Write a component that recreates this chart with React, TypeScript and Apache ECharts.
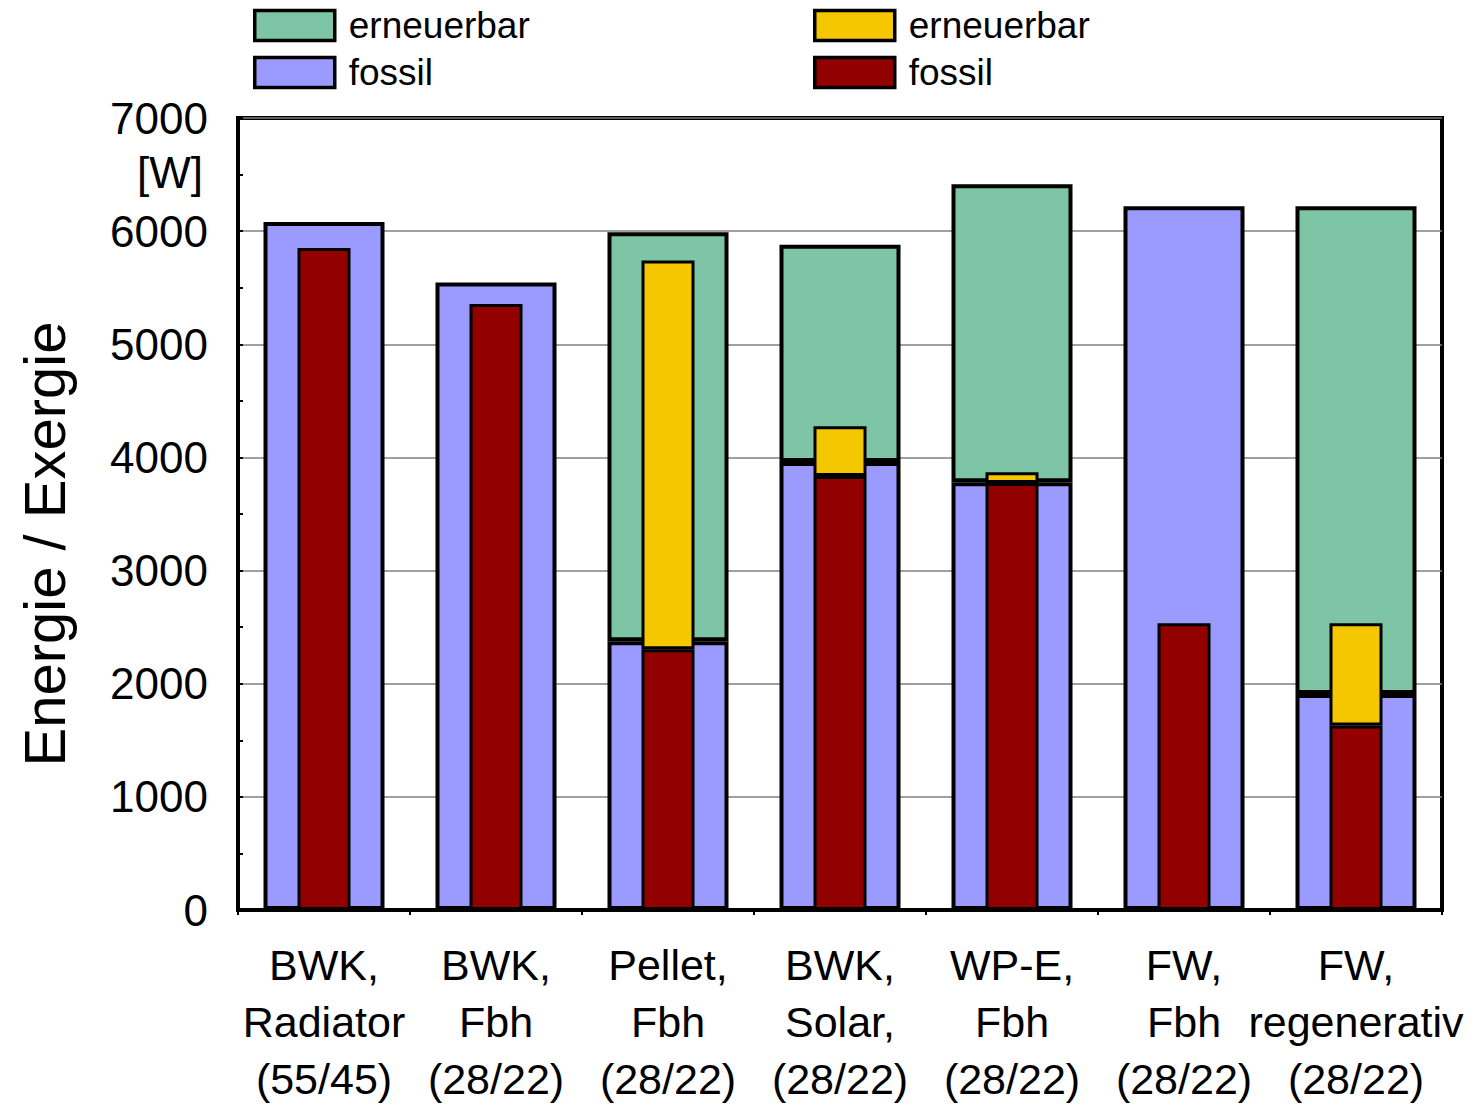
import React, { useEffect, useRef } from "react";
import * as echarts from "echarts";

const categories = [
  "BWK,\nRadiator\n(55/45)",
  "BWK,\nFbh\n(28/22)",
  "Pellet,\nFbh\n(28/22)",
  "BWK,\nSolar,\n(28/22)",
  "WP-E,\nFbh\n(28/22)",
  "FW,\nFbh\n(28/22)",
  "FW,\nregenerativ\n(28/22)",
];
const energyFossil = [6080, 5545, 2375, 3960, 3780, 6220, 1910];
const energyRenewable = [0, 0, 3615, 1920, 2635, 0, 4310];
const exergyFossil = [5850, 5355, 2305, 3835, 3775, 2535, 1630];
const exergyRenewable = [0, 0, 3435, 440, 95, 0, 905];
const yTicks = [0, 1000, 2000, 3000, 4000, 5000, 6000, 7000];

const FONT = "'Liberation Sans', Arial, sans-serif";
const GREEN = "#7DC5A5";
const BLUE = "#9B9BFF";
const YELLOW = "#F5C700";
const RED = "#920000";

const nz = (arr: number[]) => arr.map((v) => (v === 0 ? null : v));

export default function App() {
  const ref = useRef<HTMLDivElement>(null);
  useEffect(() => {
    document.body.style.margin = "0";
    const chart = echarts.init(ref.current!, undefined, { renderer: "svg" });
    const legendItem = (name: string) => ({
      name,
      itemStyle: { borderColor: "#000", borderWidth: 3.5 },
    });
    const legendCommon = {
      orient: "vertical" as const,
      top: 2,
      itemWidth: 80,
      itemHeight: 30,
      itemGap: 10,
      icon: "rect",
      itemStyle: { borderColor: "#000", borderWidth: 3.5 },
      textStyle: { fontFamily: FONT, fontSize: 37, color: "#000", padding: [0, 0, 0, 9] },
      formatter: (name: string) => name.split(" ")[1],
      selectedMode: false,
    };
    const xCommon = {
      type: "category" as const,
      data: categories,
    };
    chart.setOption({
      animation: false,
      backgroundColor: "#fff",
      grid: {
        left: 238,
        right: 39,
        top: 118,
        bottom: 190,
        show: true,
        borderColor: "#000",
        borderWidth: 4,
      },
      legend: [
        {
          ...legendCommon,
          left: 248,
          data: [legendItem("Energie erneuerbar"), legendItem("Energie fossil")],
        },
        {
          ...legendCommon,
          left: 808,
          data: [legendItem("Exergie erneuerbar"), legendItem("Exergie fossil")],
        },
      ],
      xAxis: [
        {
          ...xCommon,
          axisLine: { lineStyle: { color: "#000", width: 4 } },
          axisTick: { show: true, length: 5, lineStyle: { color: "#000", width: 2 } },
          axisLabel: {
            fontFamily: FONT,
            fontSize: 43,
            color: "#000",
            lineHeight: 57,
            margin: 26,
            interval: 0,
          },
        },
        { ...xCommon, show: false },
      ],
      yAxis: {
        type: "value",
        min: 0,
        max: 7000,
        interval: 1000,
        axisLine: { show: true, lineStyle: { color: "#000", width: 4 } },
        axisTick: { show: true, inside: true, length: 5, lineStyle: { color: "#000", width: 2 } },
        minorTick: { show: true, splitNumber: 2, length: 5, lineStyle: { color: "#000", width: 2 } },
        splitLine: { show: true, lineStyle: { color: "#808080", width: 1.5 } },
        axisLabel: {
          fontFamily: FONT,
          fontSize: 44,
          color: "#000",
          margin: 30,
          formatter: (v: number) => (yTicks.includes(v) ? String(v) : ""),
        },
      },
      graphic: [
        {
          type: "text",
          right: 1481 - 203,
          top: 150,
          style: { text: "[W]", font: `44px ${FONT}`, fill: "#000" },
        },
        {
          type: "text",
          x: 44,
          y: 544,
          rotation: Math.PI / 2,
          style: {
            text: "Energie / Exergie",
            font: `58px ${FONT}`,
            fill: "#000",
            align: "center",
            verticalAlign: "middle",
          },
        },
      ],
      series: [
        {
          name: "Energie fossil",
          type: "bar",
          xAxisIndex: 0,
          stack: "energie",
          barWidth: 121,
          data: nz(energyFossil),
          itemStyle: { color: BLUE, borderColor: "#000", borderWidth: 4 },
        },
        {
          name: "Energie erneuerbar",
          type: "bar",
          xAxisIndex: 0,
          stack: "energie",
          barWidth: 121,
          data: nz(energyRenewable),
          itemStyle: { color: GREEN, borderColor: "#000", borderWidth: 4 },
        },
        {
          name: "Exergie fossil",
          type: "bar",
          xAxisIndex: 1,
          stack: "exergie",
          barWidth: 53,
          data: nz(exergyFossil),
          itemStyle: { color: RED, borderColor: "#000", borderWidth: 3 },
        },
        {
          name: "Exergie erneuerbar",
          type: "bar",
          xAxisIndex: 1,
          stack: "exergie",
          barWidth: 53,
          data: nz(exergyRenewable),
          itemStyle: { color: YELLOW, borderColor: "#000", borderWidth: 3 },
        },
      ],
    });
    return () => chart.dispose();
  }, []);
  return <div ref={ref} style={{ width: 1481, height: 1107 }} />;
}
